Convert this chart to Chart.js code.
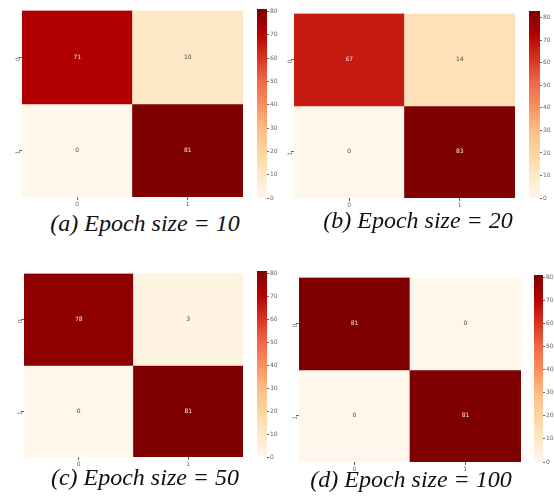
<!DOCTYPE html>
<html>
<head>
<meta charset="utf-8">
<script src="https://cdn.jsdelivr.net/npm/chart.js@4/dist/chart.umd.min.js"></script>
<style>
  body { margin: 0; background: #fff; width: 554px; height: 497px; overflow: hidden; position: relative; }
  canvas { position: absolute; }
  .caption { position: absolute; width: 300px; text-align: center; font-family: "Liberation Serif", "Times New Roman", serif; font-style: italic; font-size: 24px; line-height: 28px; color: #111; white-space: nowrap; }
</style>
</head>
<body>
<script>
// class labels on both axes
const rowLabels = ['0', '1']
const colLabels = ['0', '1']

// confusion matrices, one per epoch size
const epoch10 = [[71, 10], [0, 81]]
const epoch20 = [[67, 14], [0, 83]]
const epoch50 = [[78, 3], [0, 81]]
const epoch100 = [[81, 0], [0, 81]]

const colorbarTicks = [0, 10, 20, 30, 40, 50, 60, 70, 80]
const captions = ['(a) Epoch size = 10', '(b) Epoch size = 20', '(c) Epoch size = 50', '(d) Epoch size = 100']

// matplotlib OrRd
const orRdStops = ['#fff7ec', '#fee8c8', '#fdd49e', '#fdbb84', '#fc8d59', '#ef6548', '#d7301f', '#b30000', '#7f0000']

// pixel boxes of each panel: heatmap, colorbar, caption centre
const panels = [
  { matrix: epoch10, heat: [22, 8, 243, 197], bar: [257, 9, 267, 198], cap: [145, 223] },
  { matrix: epoch20, heat: [294, 11, 515, 198], bar: [529, 11, 540, 198], cap: [418, 220] },
  { matrix: epoch50, heat: [24, 271, 243, 457], bar: [257, 271, 267, 457], cap: [145, 477] },
  { matrix: epoch100, heat: [299, 275, 521, 462], bar: [534, 275, 543, 462], cap: [411, 479] }
]

const tickFont = { family: 'DejaVu Sans', size: 6 }
const tickColor = '#666'

function hexToRgb (hex) {
  const n = parseInt(hex.slice(1), 16)
  return [(n >> 16) & 255, (n >> 8) & 255, n & 255]
}

function orRd (t) {
  t = Math.max(0, Math.min(1, t))
  const pos = t * (orRdStops.length - 1)
  const i = Math.min(Math.floor(pos), orRdStops.length - 2)
  const f = pos - i
  const a = hexToRgb(orRdStops[i])
  const b = hexToRgb(orRdStops[i + 1])
  const c = a.map((v, k) => Math.round(v + (b[k] - v) * f))
  return 'rgb(' + c.join(',') + ')'
}

function makeCanvas (left, top, width, height) {
  const c = document.createElement('canvas')
  c.style.left = left + 'px'
  c.style.top = top + 'px'
  c.style.width = width + 'px'
  c.style.height = height + 'px'
  c.width = width
  c.height = height
  document.body.appendChild(c)
  return c
}

const cellLabels = {
  id: 'cellLabels',
  afterDatasetsDraw (chart) {
    const ctx = chart.ctx
    const vmax = chart.options.plugins.cellLabels.vmax
    ctx.save()
    ctx.font = '6px DejaVu Sans'
    ctx.textAlign = 'center'
    ctx.textBaseline = 'middle'
    chart.data.datasets.forEach((ds, di) => {
      chart.getDatasetMeta(di).data.forEach((bar, i) => {
        const v = ds.values[i]
        ctx.fillStyle = v / vmax > 0.5 ? '#f4e6e0' : '#444'
        ctx.fillText(String(v), bar.x, (bar.y + bar.base) / 2)
      })
    })
    ctx.restore()
  }
}

function drawHeatmap (panel) {
  const [l, t, r, b] = panel.heat
  const vmax = Math.max(...panel.matrix.flat())
  const canvas = makeCanvas(l - 14, t - 2, r - l + 16, b - t + 14)
  new Chart(canvas, {
    type: 'bar',
    data: {
      labels: colLabels,
      datasets: panel.matrix.map((row, ri) => ({
        data: row.map(() => [ri, ri + 1]),
        values: row,
        backgroundColor: row.map(v => orRd(v / vmax)),
        borderWidth: 0,
        barPercentage: 1,
        categoryPercentage: 1,
        grouped: false
      }))
    },
    options: {
      responsive: false,
      animation: false,
      events: [],
      layout: { padding: { left: 0, top: 2, right: 2, bottom: 0 } },
      plugins: { legend: { display: false }, tooltip: { enabled: false }, cellLabels: { vmax } },
      scales: {
        x: {
          afterFit: s => { s.height = 12 },
          grid: { offset: false, drawOnChartArea: false, tickLength: 3, color: tickColor },
          border: { display: false },
          ticks: { font: tickFont, color: tickColor, padding: 1 }
        },
        y: {
          min: 0,
          max: 2,
          reverse: true,
          afterFit: s => { s.width = 14 },
          afterBuildTicks: s => { s.ticks = [{ value: 0.5 }, { value: 1.5 }] },
          grid: { drawOnChartArea: false, tickLength: 3, color: tickColor },
          border: { display: false },
          ticks: { font: tickFont, color: tickColor, padding: 1, minRotation: 90, maxRotation: 90, callback: (v, i) => rowLabels[i] }
        }
      }
    },
    plugins: [cellLabels]
  })
}

function drawColorbar (panel) {
  const [l, t, r, b] = panel.bar
  const vmax = Math.max(...panel.matrix.flat())
  const canvas = makeCanvas(l, t - 5, r - l + 20, b - t + 10)
  new Chart(canvas, {
    type: 'bar',
    data: {
      labels: [''],
      datasets: [{
        data: [[0, vmax]],
        borderWidth: 0,
        barPercentage: 1,
        categoryPercentage: 1,
        backgroundColor: ctx => {
          const area = ctx.chart.chartArea
          if (!area) return orRdStops[4]
          const g = ctx.chart.ctx.createLinearGradient(0, area.bottom, 0, area.top)
          orRdStops.forEach((c, i) => g.addColorStop(i / (orRdStops.length - 1), c))
          return g
        }
      }]
    },
    options: {
      responsive: false,
      animation: false,
      events: [],
      layout: { padding: { left: 0, top: 5, right: 0, bottom: 5 } },
      plugins: { legend: { display: false }, tooltip: { enabled: false } },
      scales: {
        x: { display: false },
        y: {
          position: 'right',
          min: 0,
          max: vmax,
          afterFit: s => { s.width = 20 },
          afterBuildTicks: s => { s.ticks = colorbarTicks.map(v => ({ value: v })) },
          grid: { drawOnChartArea: false, tickLength: 2, color: tickColor },
          border: { display: false },
          ticks: { font: tickFont, color: tickColor, padding: 1 }
        }
      }
    }
  })
}

panels.forEach((panel, i) => {
  drawHeatmap(panel)
  drawColorbar(panel)
  const cap = document.createElement('div')
  cap.className = 'caption'
  cap.textContent = captions[i]
  cap.style.left = (panel.cap[0] - 150) + 'px'
  cap.style.top = (panel.cap[1] - 14) + 'px'
  document.body.appendChild(cap)
})
</script>
</body>
</html>
